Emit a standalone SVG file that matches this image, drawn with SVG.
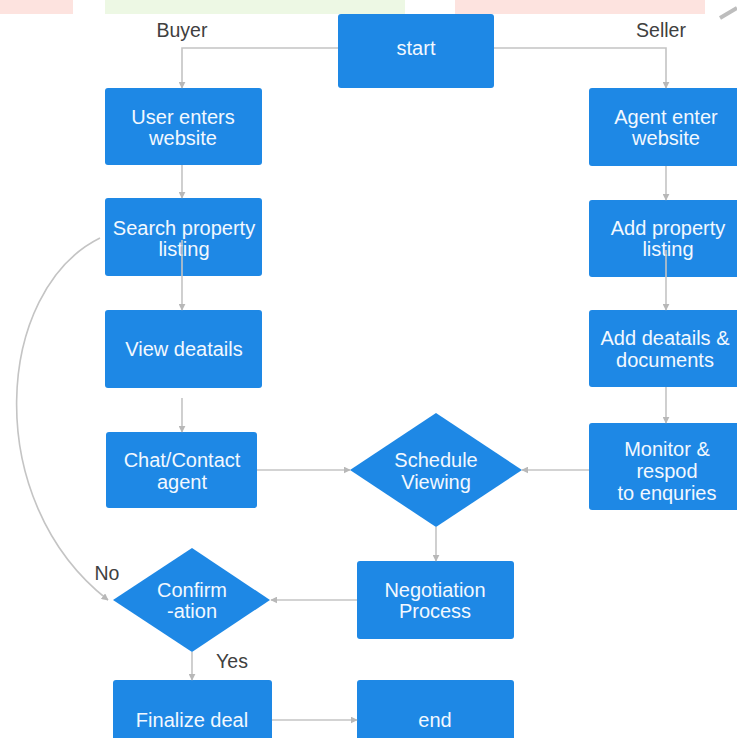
<svg xmlns="http://www.w3.org/2000/svg" width="737" height="738" viewBox="0 0 737 738">
<defs>
<style>
.box{fill:#1e88e5;}
.t{font-family:"Liberation Sans",Arial,sans-serif;font-size:20px;fill:#f2f8ff;text-anchor:middle;}
.lbl{font-family:"Liberation Sans",Arial,sans-serif;font-size:19.5px;fill:#404040;text-anchor:middle;}
.c{fill:none;stroke:#c4c4c4;stroke-width:1.6;marker-end:url(#ah);}
</style>
<marker id="ah" viewBox="0 0 10 10" refX="9" refY="5" markerWidth="7" markerHeight="7" markerUnits="userSpaceOnUse" orient="auto">
<path d="M0,0 L10,5 L0,10 z" fill="#b8b8b8"/>
</marker>
</defs>
<rect width="737" height="738" fill="#ffffff"/>
<g id="banner">
<rect x="0" y="0" width="73" height="14" fill="#fde3df"/>
<rect x="105" y="0" width="300" height="14" fill="#edf8e4"/>
<rect x="455" y="0" width="250" height="14" fill="#fde3df"/>
<path d="M720,18 L737,8" stroke="#bdbdbd" stroke-width="4"/>
</g>
<text class="lbl" x="182" y="37">Buyer</text>
<text class="lbl" x="661" y="37">Seller</text>
<g id="start"><rect class="box" x="338" y="14" width="156" height="74" rx="3"/><text class="t" x="416" y="55">start</text></g>
<g id="user"><rect class="box" x="105" y="88" width="157" height="77" rx="3"/><text class="t" x="183" y="124">User enters</text><text class="t" x="183" y="145">website</text></g>
<g id="search"><rect class="box" x="105" y="198" width="157" height="78" rx="3"/><text class="t" x="184" y="235">Search property</text><text class="t" x="184" y="256">listing</text></g>
<g id="view"><rect class="box" x="105" y="310" width="157" height="78" rx="3"/><text class="t" x="184" y="356">View deatails</text></g>
<g id="chat"><rect class="box" x="106" y="432" width="151" height="76" rx="3"/><text class="t" x="182" y="467">Chat/Contact</text><text class="t" x="182" y="489">agent</text></g>
<g id="schedule"><polygon class="box" points="436,413 522,470 436,527 350,470"/><text class="t" x="436" y="467">Schedule</text><text class="t" x="436" y="489">Viewing</text></g>
<g id="confirm"><polygon class="box" points="192,548 270,600 192,652 113,600"/><text class="t" x="192" y="597">Confirm</text><text class="t" x="192" y="618">-ation</text></g>
<g id="negotiation"><rect class="box" x="357" y="561" width="157" height="78" rx="3"/><text class="t" x="435" y="597">Negotiation</text><text class="t" x="435" y="618">Process</text></g>
<g id="finalize"><rect class="box" x="113" y="680" width="159" height="70" rx="3"/><text class="t" x="192" y="727">Finalize deal</text></g>
<g id="end"><rect class="box" x="357" y="680" width="157" height="70" rx="3"/><text class="t" x="435" y="727">end</text></g>
<g id="agent"><rect class="box" x="589" y="88" width="157" height="78" rx="3"/><text class="t" x="666" y="124">Agent enter</text><text class="t" x="666" y="145">website</text></g>
<g id="addlisting"><rect class="box" x="589" y="200" width="157" height="77" rx="3"/><text class="t" x="668" y="235">Add property</text><text class="t" x="668" y="256">listing</text></g>
<g id="adddetails"><rect class="box" x="589" y="310" width="157" height="77" rx="3"/><text class="t" x="665" y="345">Add deatails &amp;</text><text class="t" x="665" y="367">documents</text></g>
<g id="monitor"><rect class="box" x="589" y="423" width="157" height="87" rx="3"/><text class="t" x="667" y="456">Monitor &amp;</text><text class="t" x="667" y="478">respod</text><text class="t" x="667" y="500">to enquries</text></g>
<text class="lbl" x="107" y="580">No</text>
<text class="lbl" x="232" y="668">Yes</text>
<g id="connectors">
<path class="c" d="M338,48 H182 V88"/>
<path class="c" d="M494,48 H666 V88"/>
<path class="c" d="M182,165 V198"/>
<path class="c" d="M182,240 V310"/>
<path class="c" d="M182,398 V432"/>
<path class="c" d="M257,470 H350"/>
<path class="c" d="M589,470 H522"/>
<path class="c" d="M436,527 V561"/>
<path class="c" d="M357,600 H271"/>
<path class="c" d="M192,652 V680"/>
<path class="c" d="M272,720 H357"/>
<path class="c" d="M666,166 V200"/>
<path class="c" d="M666,250 V310"/>
<path class="c" d="M666,387 V423"/>
<path class="c" d="M100,238 C-5,290 -20,500 108,600"/>
</g>
</svg>
